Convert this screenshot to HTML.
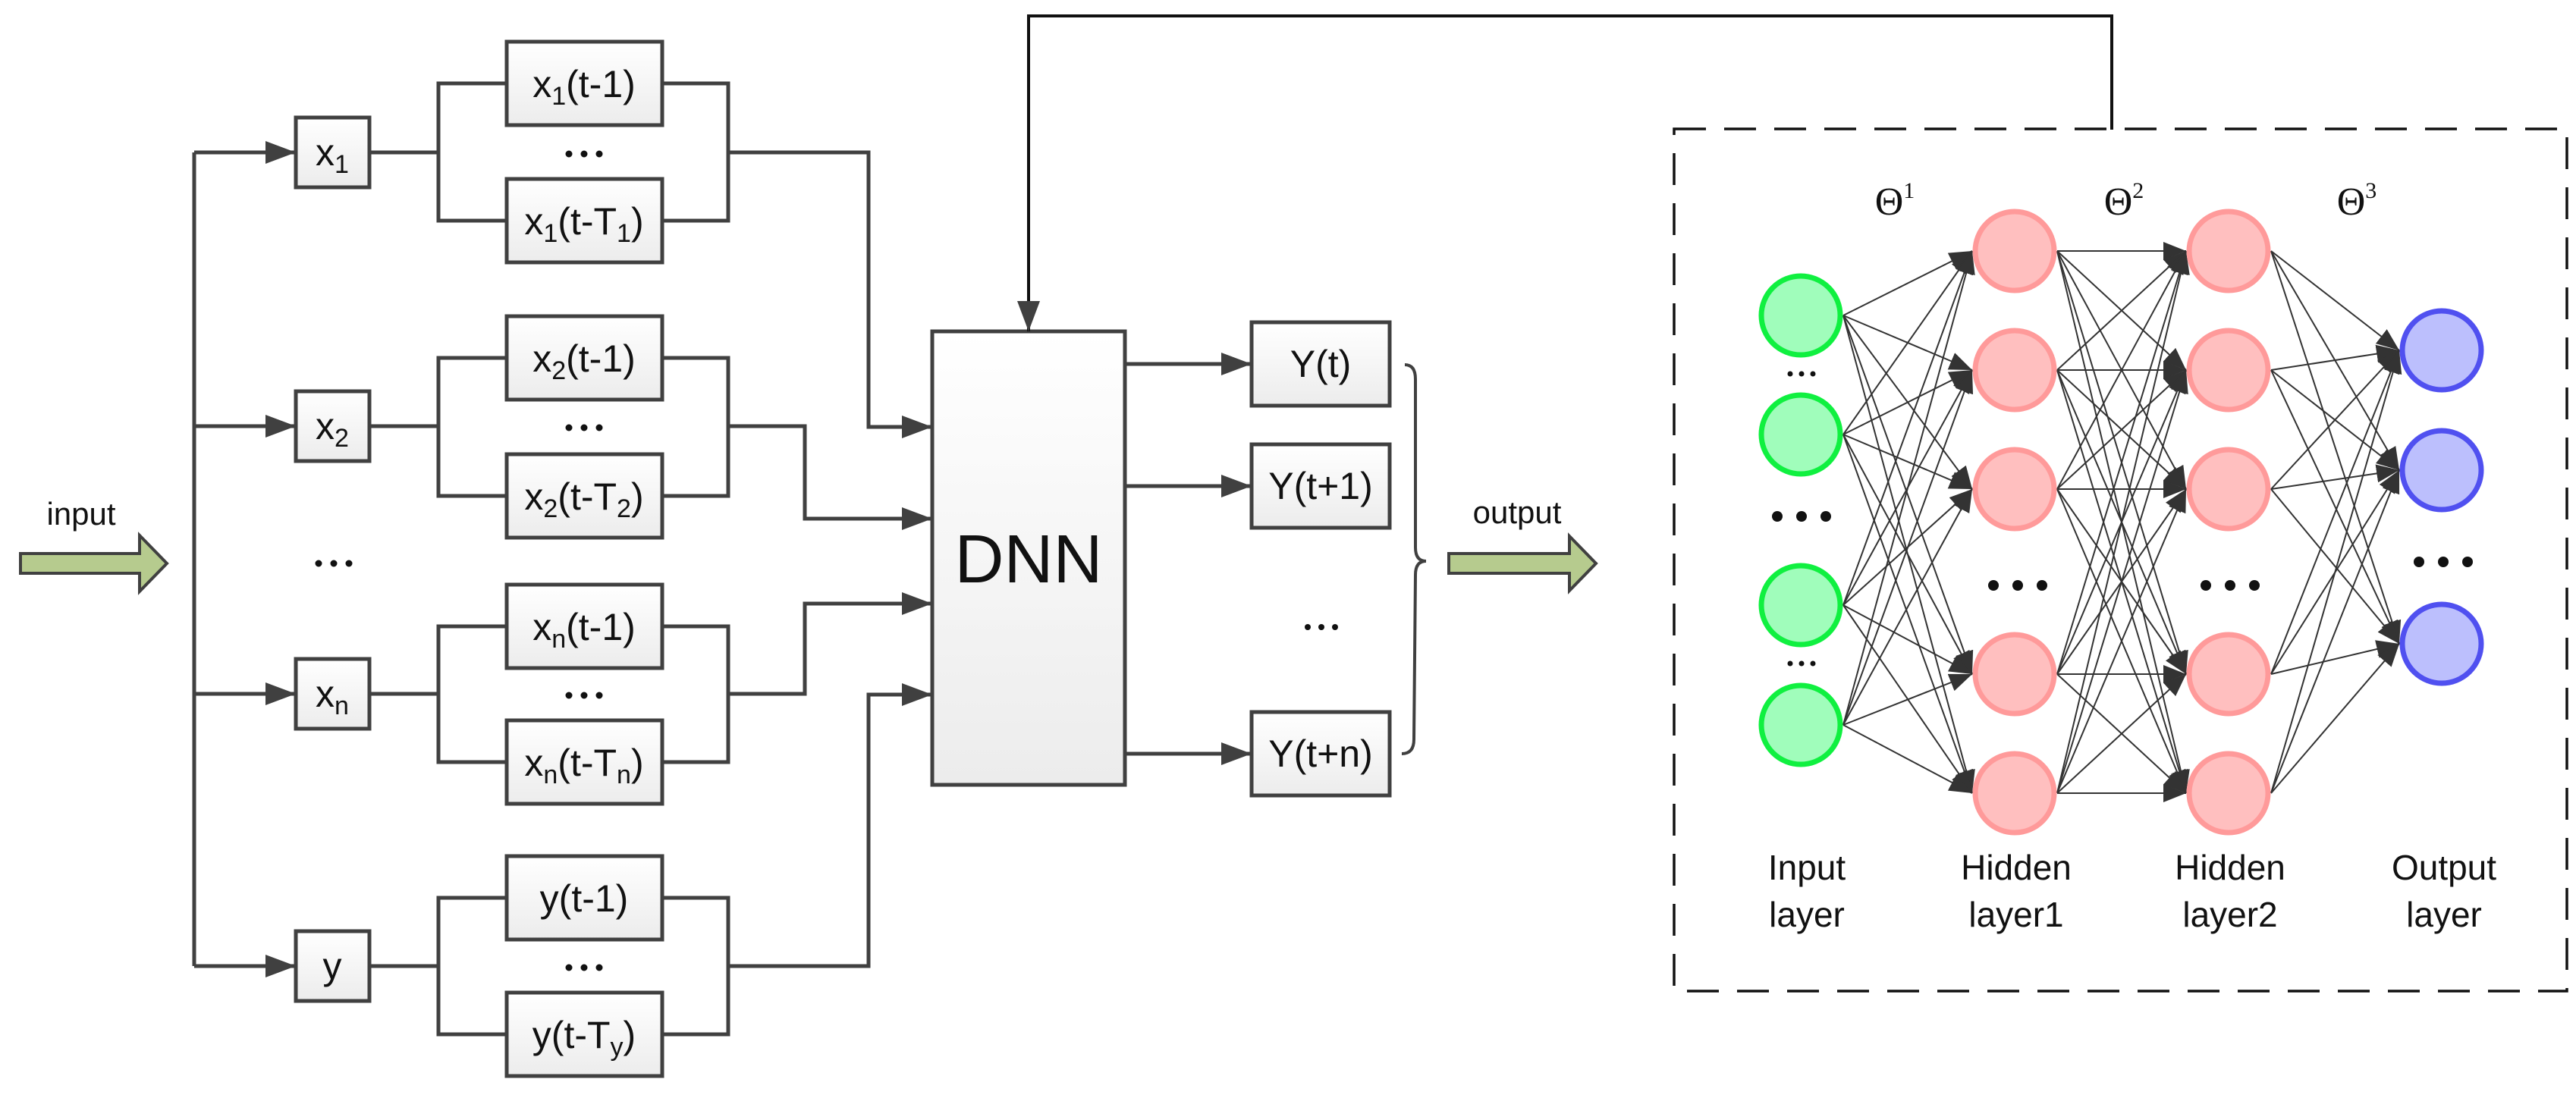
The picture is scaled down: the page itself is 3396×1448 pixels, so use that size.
<!DOCTYPE html>
<html><head><meta charset="utf-8"><style>
html,body{margin:0;padding:0;background:#fff;}
svg{display:block;}
.t{font-family:"Liberation Sans",sans-serif;fill:#111;}
</style></head><body>
<svg id="s" width="3396" height="1448" viewBox="0 0 3396 1448" xmlns="http://www.w3.org/2000/svg">
<defs>
<linearGradient id="g" x1="0" y1="0" x2="0" y2="1"><stop offset="0" stop-color="#ffffff"/><stop offset="1" stop-color="#ececec"/></linearGradient>
<marker id="ah" markerWidth="40" markerHeight="30" refX="40" refY="15" orient="auto" markerUnits="userSpaceOnUse"><path d="M0,0 L40,15 L0,30 Z" fill="#404040"/></marker>
<marker id="ah2" markerWidth="30" markerHeight="24" refX="30" refY="12" orient="auto" markerUnits="userSpaceOnUse"><path d="M0,0 L30,12 L0,24 Z" fill="#333"/></marker>
</defs>
<g id="left" stroke="#404040" stroke-width="5" fill="none"></g>
<g id="nn"></g>
</svg>
<script>
var NS="http://www.w3.org/2000/svg";
function el(p,tag,a,txt){var e=document.createElementNS(NS,tag);for(var k in a)e.setAttribute(k,a[k]);if(txt!=null)e.innerHTML=txt;p.appendChild(e);return e;}
var s=document.getElementById('s'),L=document.getElementById('left'),N=document.getElementById('nn');
function line(pts,arrow,g){el(g||L,'polyline',{points:pts.map(function(p){return p.join(',')}).join(' '),'marker-end':arrow?'url(#ah)':''});}
function box(x,y,w,h){el(s,'rect',{x:x,y:y,width:w,height:h,fill:'url(#g)',stroke:'#404040','stroke-width':5});}
function txt(x,y,html,size,anchor){el(s,'text',{x:x,y:y,'font-size':size,'text-anchor':anchor||'middle','class':'t'},html);}
function dots(cx,cy,r,gap){for(var i=-1;i<=1;i++)el(s,'circle',{cx:cx+i*gap,cy:cy,r:r,fill:'#111'});}
// input arrow
el(s,'path',{d:'M27,730 L184,730 L184,706 L220,743 L184,780 L184,756 L27,756 Z',fill:'#b6cb8e',stroke:'#404040','stroke-width':4});
txt(107,692,'input',42);
dots(440,743,4.5,20);
var C=[201,562,915,1274],T=[110,472,826,1184],B=[291,654,1005,1364];
var X=[1145,1061,1061,1145],TG=[563,684,796,916];
var nm=['x<tspan font-size="32" dy="10">1</tspan>','x<tspan font-size="32" dy="10">2</tspan>','x<tspan font-size="32" dy="10">n</tspan>','y'];
var sub=['1','2','n','y'];
var base=['x','x','x','y'];
line([[256,201],[256,1274]]);
for(var i=0;i<4;i++){
 var c=C[i],t=T[i],b=B[i];
 line([[256,c],[390,c]],1);
 line([[487,c],[578,c]]);
 line([[668,t],[578,t],[578,b],[668,b]]);
 line([[873,t],[960,t],[960,b],[873,b]]);
 line([[960,c],[X[i],c],[X[i],TG[i]],[1229,TG[i]]],1);
}
for(var i=0;i<4;i++){
 var c=C[i],t=T[i],b=B[i];
 box(390,c-46,97,92);
 box(668,t-55,205,110);
 box(668,b-55,205,110);
 var sb=(i<3)?'<tspan font-size="34" dy="10">'+sub[i]+'</tspan><tspan dy="-10">':'<tspan>';
 txt(438,c+17,base[i]+(i<3?'<tspan font-size="34" dy="10">'+sub[i]+'</tspan>':''),50);
 txt(770,t+18,base[i]+sb+'(t-1)</tspan>',50);
 var sT='<tspan font-size="34" dy="10">'+sub[i]+'</tspan><tspan dy="-10">)</tspan>';
 txt(770,b+18,base[i]+sb+'(t-T</tspan>'+sT,50);
 dots(770,c+2,4.5,20);
}
// DNN
box(1229,437,254,598);
txt(1356,768,'DNN',90);
// feedback
el(s,'polyline',{points:'2784,171 2784,21 1356,21 1356,437',fill:'none',stroke:'#111','stroke-width':4,'marker-end':'url(#ah)'});
// outputs
var YC=[480,641,994],YL=['Y(t)','Y(t+1)','Y(t+n)'];
for(var i=0;i<3;i++){line([[1483,YC[i]],[1650,YC[i]]],1);box(1650,YC[i]-55,182,110);txt(1741,YC[i]+17,YL[i],50);}
dots(1742,827,4,18);
el(s,'path',{d:'M1852,481 Q1866,481 1866,500 L1866,722 Q1866,740 1880,740 Q1866,740 1866,758 L1864,975 Q1864,994 1848,994',fill:'none',stroke:'#404040','stroke-width':4});
txt(2000,690,'output',42);
el(s,'path',{d:'M1910,730 L2069,730 L2069,707 L2104,743 L2069,779 L2069,756 L1910,756 Z',fill:'#b6cb8e',stroke:'#404040','stroke-width':4});
// dashed box
el(s,'rect',{x:2207,y:170,width:1177,height:1137,fill:'none',stroke:'#111','stroke-width':3.5,'stroke-dasharray':'42 24'});
// NN
var r=52;
var LX=[2374,2656,2938,3219];
var LY=[[416,573,798,956],[331,488,645,889,1046],[331,488,645,889,1046],[462,620,849]];
for(var l=0;l<3;l++)for(var a=0;a<LY[l].length;a++)for(var b=0;b<LY[l+1].length;b++){
 el(N,'line',{x1:LX[l]+r+4,y1:LY[l][a],x2:LX[l+1]-r-4,y2:LY[l+1][b],stroke:'#333','stroke-width':2,'marker-end':'url(#ah2)'});
}
var FC=['#a0fdbb','#ffbfbf','#ffbfbf','#bcbffd'],SC=['#10f040','#ff9a9a','#ff9a9a','#5050f0'];
for(var l=0;l<4;l++)for(var a=0;a<LY[l].length;a++)el(N,'circle',{cx:LX[l],cy:LY[l][a],r:r,fill:FC[l],stroke:SC[l],'stroke-width':7});
dots(2375,493,3.5,15);dots(2375,875,3.5,15);
dots(2375,681,7,32);dots(2660,772,7,32);dots(2940,772,7,32);dots(3221,741,7,32);
var th=[2498,2800,3107];
for(var i=0;i<3;i++){el(s,'text',{x:th[i],y:283,'font-size':52,'text-anchor':'middle','font-family':'"Liberation Serif",serif',fill:'#111'},'Θ<tspan font-size="30" dy="-22">'+(i+1)+'</tspan>');}
var lab=[['Input','layer'],['Hidden','layer1'],['Hidden','layer2'],['Output','layer']];
var lx=[2382,2658,2940,3222];
for(var i=0;i<4;i++){txt(lx[i],1160,lab[i][0],46);txt(lx[i],1222,lab[i][1],46);}
</script>
</body></html>
